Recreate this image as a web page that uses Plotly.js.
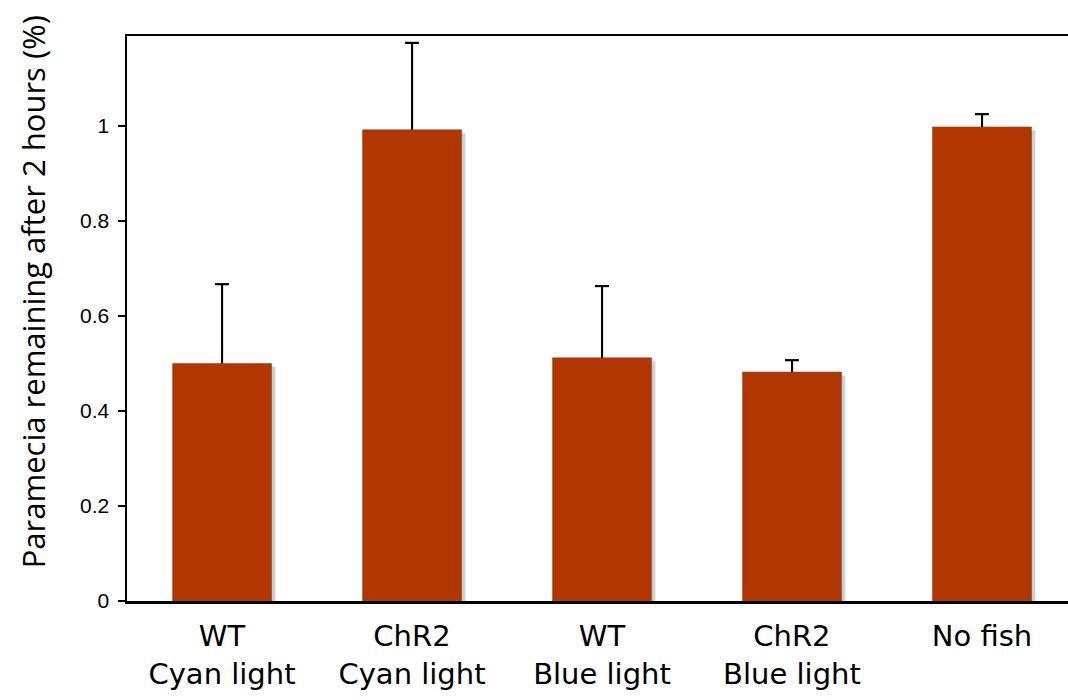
<!DOCTYPE html>
<html>
<head>
<meta charset="utf-8">
<script src="https://cdn.plot.ly/plotly-3.0.1.min.js"></script>
<style>html,body{margin:0;padding:0;background:#fff;}#chart{width:1068px;height:700px;}</style>
</head>
<body>
<div id="chart"></div>
<script>
const labelLine1 = ["WT", "ChR2", "WT", "ChR2", "No fish"];
const labelLine2 = ["Cyan light", "Cyan light", "Blue light", "Blue light", ""];
const means = [0.500, 0.992, 0.512, 0.482, 0.998];
const errUpper = [0.167, 0.183, 0.151, 0.025, 0.027];
const yTitle = 'Paramecia remaining after 2 hours (%)';

const xIdx = labelLine1.map((_, i) => i);
const tickText = labelLine1.map((t, i) => labelLine2[i] ? t + '<br>' + labelLine2[i] : t);
const errTop = means.map((m, i) => m + errUpper[i]);

const shadow = {
  type: 'bar', x: xIdx, y: means, base: -0.007,
  width: 0.521, offset: -0.24,
  marker: {color: '#cfcfcf', line: {width: 0}},
  hoverinfo: 'skip', showlegend: false
};
const bars = {
  type: 'bar', x: xIdx, y: means,
  width: 0.521, offset: -0.26,
  marker: {color: '#b23600', line: {width: 0.6, color: '#8a4a33'}},
  showlegend: false
};
// upper-only error bars: stem as thin bar from the mean, cap as a marker
const stems = {
  type: 'bar', x: xIdx, y: errUpper, base: means,
  width: 0.011, offset: -0.0050,
  marker: {color: '#000', line: {width: 0}},
  hoverinfo: 'skip', showlegend: false
};
const caps = {
  type: 'scatter', mode: 'markers', x: xIdx, y: errTop,
  marker: {symbol: 'line-ew', size: 10, line: {width: 2.2, color: '#000'}},
  hoverinfo: 'skip', showlegend: false, cliponaxis: false
};

const layout = {
  width: 1068, height: 700,
  margin: {l: 127, r: 0, t: 36, b: 99},
  paper_bgcolor: '#fff', plot_bgcolor: '#fff',
  barmode: 'overlay',
  showlegend: false,
  annotations: [{xref: 'paper', yref: 'paper', x: -0.100, y: 0.548, xanchor: 'center', yanchor: 'middle',
    textangle: -90, text: yTitle, showarrow: false,
    font: {family: 'Open Sans, sans-serif', size: 31, color: '#000'}}],
  xaxis: {
    range: [-0.5, 4.453], tickvals: xIdx, ticktext: tickText,
    showline: true, linecolor: '#000', linewidth: 2.5, mirror: true,
    ticks: '', showgrid: false, zeroline: false,
    ticklabelstandoff: 8,
    tickfont: {family: 'DejaVu Sans, sans-serif', size: 29, color: '#000'}
  },
  yaxis: {
    range: [0, 1.1895], dtick: 0.2, tick0: 0,
    showline: true, linecolor: '#000', linewidth: 2.5,
    ticks: 'outside', ticklen: 7, tickwidth: 2, tickcolor: '#000',
    ticklabelstandoff: 4,
    showgrid: false, zeroline: false,
    tickfont: {family: 'Liberation Sans, Arial, sans-serif', size: 21, color: '#000'}
  }
};

Plotly.newPlot('chart', [shadow, bars, stems, caps], layout, {displayModeBar: false, staticPlot: true});
</script>
</body>
</html>
